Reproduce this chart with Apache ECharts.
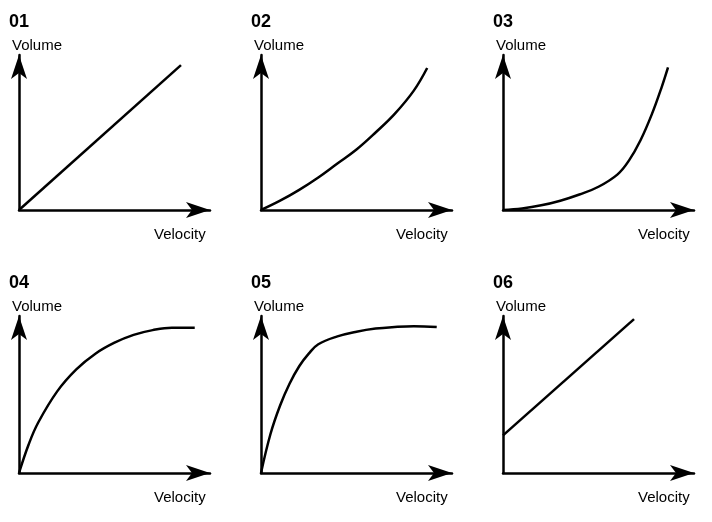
<!DOCTYPE html><html><head><meta charset="utf-8">
<script src="https://cdn.jsdelivr.net/npm/echarts@6/dist/echarts.min.js"></script>
<style>html,body{margin:0;background:#fff}#c{width:712px;height:522px}</style></head><body><div id="c"></div>
<script>
const panelTitles=['01','02','03','04','05','06'];
const yLabel='Volume', xLabel='Velocity';
const curve01=[[0,0],[84.8,93.5]];
const curve02=[[0,0],[10,6],[20,13],[30,21],[40,30],[50,39],[60,50],[70,62],[80,77],[87,91.6]];
const curve03=[[0,0],[10,1],[20,3],[30,6],[40,10],[50,15],[60,23],[66,32],[72,45],[78,62],[83,79],[86.4,92]];
const curve04=[[0,0],[5,18],[10,32],[20,52],[30,66],[40,76],[50,83],[60,88],[70,91],[80,92.5],[92,92.5]];
const curve05=[[0,0],[5,25],[10,43],[15,57],[20,68],[25,76],[30,82],[40,87],[50,90],[60,92],[70,93],[80,93.5],[92,93]];
const curve06=[[0,24],[68.6,98]];
const curves=[curve01,curve02,curve03,curve04,curve05,curve06];
const lefts=[19,261,503], rows=[{top:55,h:155},{top:316,h:157}];
const grid=[],xAxis=[],yAxis=[],series=[],graphic=[];
const F='"Liberation Sans",Arial,sans-serif';
curves.forEach((d,i)=>{
  const L=lefts[i%3], R=rows[Math.floor(i/3)];
  grid.push({left:L,top:R.top,width:191,height:R.h});
  const ax={gridIndex:i,type:'value',min:0,max:100,splitLine:{show:false},axisTick:{show:false},axisLabel:{show:false},
    axisLine:{show:true,onZero:false,symbol:['none','arrow'],symbolSize:[12,24],lineStyle:{color:'#000',width:2.5}}};
  xAxis.push(Object.assign({},ax)); yAxis.push(JSON.parse(JSON.stringify(ax)));
  series.push({type:'line',xAxisIndex:i,yAxisIndex:i,data:d,smooth:d.length>2?0.4:false,symbol:'none',lineStyle:{color:'#000',width:2.5}});
  graphic.push({type:'text',left:L-10,top:R.top-42,style:{text:panelTitles[i],font:'bold 18px '+F,fill:'#000'}});
  graphic.push({type:'text',left:L-7,top:R.top-17,style:{text:yLabel,font:'15px '+F,fill:'#000'}});
  graphic.push({type:'text',left:L+135,top:R.top+R.h+17,style:{text:xLabel,font:'15px '+F,fill:'#000'}});
});
const ch=echarts.init(document.getElementById('c'));
ch.setOption({animation:false,grid,xAxis,yAxis,series,graphic});
</script></body></html>
